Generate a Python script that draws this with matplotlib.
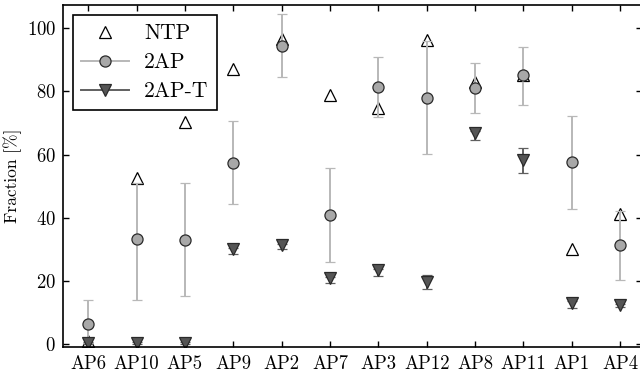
import matplotlib
matplotlib.use("Agg")
import matplotlib.pyplot as plt
from matplotlib.lines import Line2D
import numpy as np

plt.rcParams['font.family'] = ['cmr10', 'DejaVu Serif']
plt.rcParams['mathtext.fontset'] = 'cm'
plt.rcParams['axes.formatter.use_mathtext'] = True

labels = ['AP6', 'AP10', 'AP5', 'AP9', 'AP2', 'AP7', 'AP3', 'AP12', 'AP8', 'AP11', 'AP1', 'AP4']

ntp = [1.0, 52.5, 70.2, 87.0, 96.5, 78.8, 74.6, 96.3, 83.0, 85.0, 30.2, 41.3]

ap2 = [6.3, 33.2, 33.0, 57.4, 94.3, 40.8, 81.4, 77.9, 80.9, 85.0, 57.5, 31.3]
ap2_lo = [0.5, 14.0, 15.2, 44.2, 84.6, 26.0, 71.9, 60.1, 73.0, 75.8, 42.8, 20.3]
ap2_hi = [14.0, 51.0, 51.0, 70.6, 104.5, 55.6, 90.9, 96.0, 88.8, 94.1, 72.2, 42.0]

ap2t = [0.4, 0.4, 0.4, 30.1, 31.4, 20.8, 23.4, 19.8, 66.7, 58.2, 13.1, 12.4]
ap2t_lo = [0.0, 0.0, 0.0, 28.6, 30.1, 19.4, 21.5, 17.6, 64.6, 54.0, 11.4, 11.6]
ap2t_hi = [0.8, 0.8, 0.8, 30.5, 31.8, 21.2, 23.8, 21.8, 67.3, 62.2, 13.5, 12.8]

x = np.arange(len(labels))
ap2 = np.array(ap2)
ap2t = np.array(ap2t)
err2 = [ap2 - np.array(ap2_lo), np.array(ap2_hi) - ap2]
err2t = [ap2t - np.array(ap2t_lo), np.array(ap2t_hi) - ap2t]

light = '#b8b8b8'
dark = '#606060'

fig = plt.figure(figsize=(6.4, 3.73), dpi=100)
ax = fig.add_axes([63 / 640, 26 / 373, 579 / 640, 342 / 373])

ntp_style = dict(marker='^', markersize=8, markerfacecolor='white',
                 markeredgecolor='black', markeredgewidth=0.9)
ap2_style = dict(marker='o', markersize=8, markerfacecolor='#a8a8a8',
                 markeredgecolor='#2a2a2a', markeredgewidth=0.9)
ap2t_style = dict(marker='v', markersize=8.5, markerfacecolor='#555555',
                  markeredgecolor='#2a2a2a', markeredgewidth=0.9)

ax.plot(x, ntp, linestyle='none', **ntp_style)
ax.errorbar(x, ap2, yerr=err2, linestyle='none', ecolor=light, elinewidth=1.4,
            capsize=3.5, capthick=1.4, **ap2_style)
ax.errorbar(x, ap2t, yerr=err2t, linestyle='none', ecolor=dark, elinewidth=1.4,
            capsize=3.5, capthick=1.4, **ap2t_style)

ax.set_xlim(-0.52, 11.45)
ax.set_ylim(-0.9, 107.3)
ax.set_xticks(x)
ax.set_xticklabels(labels)
ax.set_yticks([0, 20, 40, 60, 80, 100])
ax.tick_params(direction='in', top=True, right=True, labelsize=13.5, length=4, width=1)
ax.tick_params(axis='x', pad=6)
ax.tick_params(axis='y', pad=5)
ax.set_ylabel('Fraction [%]', fontsize=12.5, labelpad=3)
for s in ax.spines.values():
    s.set_linewidth(1.2)

handles = [
    Line2D([], [], linestyle='none', **ntp_style),
    Line2D([], [], color=light, linewidth=1.4, **ap2_style),
    Line2D([], [], color=dark, linewidth=1.4, **ap2t_style),
]
leg = ax.legend(handles, ['NTP', '2AP', '2AP-T'], loc='upper left', fontsize=15.5,
                frameon=True, fancybox=False, edgecolor='black', framealpha=1,
                borderpad=0.4, handlelength=2.2, handletextpad=0.7,
                labelspacing=0.45, borderaxespad=0,
                bbox_to_anchor=(0.017, 0.971))
leg.get_frame().set_linewidth(1.2)

fig.savefig('out.png', dpi=100)
